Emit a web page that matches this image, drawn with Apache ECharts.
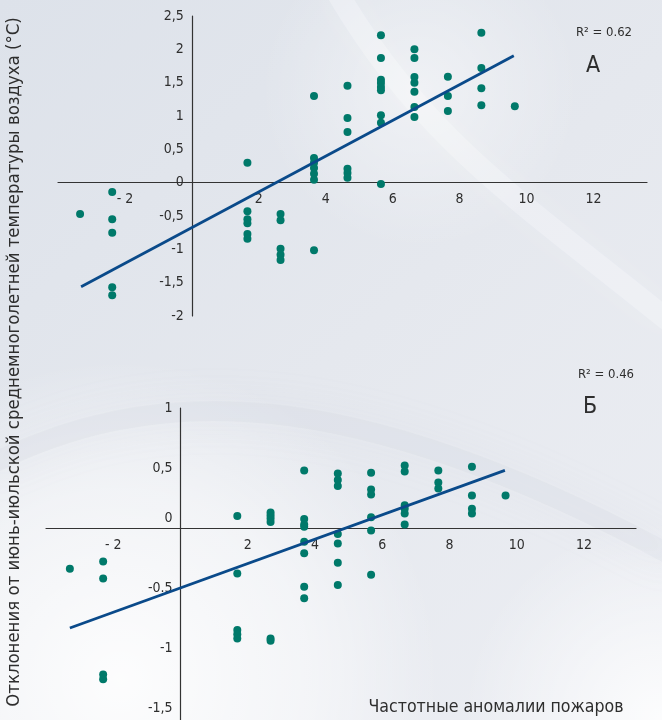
<!DOCTYPE html>
<html>
<head>
<meta charset="utf-8">
<script src="https://cdn.jsdelivr.net/npm/echarts@6.0.0/dist/echarts.min.js"></script>
<style>html,body{margin:0;padding:0;background:#e3e7ee}#c{width:662px;height:720px}</style>
</head>
<body>
<div id="c"></div>
<script>
// ---- Data ----
// Panel А
const topColumnsX = [-3.34, -2.38, 1.66, 2.65, 3.65, 4.65, 5.65, 6.65, 7.65, 8.65, 9.65];
const topColumnsY = [
  [-0.47],
  [-0.14, -0.55, -0.75, -1.57, -1.69],
  [0.30, -0.43, -0.55, -0.61, -0.77, -0.84],
  [-0.47, -0.565, -0.99, -1.08, -1.16],
  [1.30, 0.37, 0.30, 0.22, 0.135, 0.045, -1.015],
  [1.455, 0.97, 0.76, 0.21, 0.145, 0.075],
  [2.21, 1.87, 1.545, 1.495, 1.435, 1.385, 1.01, 0.90, -0.02],
  [2.0, 1.87, 1.585, 1.50, 1.365, 1.135, 0.985],
  [1.59, 1.30, 1.075],
  [2.25, 1.72, 1.415, 1.16],
  [1.145]
];
const topTrend = [[-3.31, -1.56], [9.62, 1.905]];
const topR2 = 'R² = 0.62';
const topPanel = 'А';

// Panel Б
const botColumnsX = [-3.29, -2.30, 1.69, 2.68, 3.68, 4.68, 5.67, 6.67, 7.67, 8.67, 9.67];
const botColumnsY = [
  [-0.34],
  [-0.28, -0.42, -1.22, -1.26],
  [0.10, -0.38, -0.85, -0.885, -0.92],
  [0.13, 0.105, 0.08, 0.05, -0.92, -0.94],
  [0.48, 0.075, 0.03, 0.01, -0.115, -0.21, -0.49, -0.585],
  [0.455, 0.40, 0.35, -0.05, -0.13, -0.29, -0.475],
  [0.46, 0.32, 0.28, 0.09, -0.02, -0.39],
  [0.52, 0.47, 0.19, 0.16, 0.12, 0.03],
  [0.48, 0.38, 0.33],
  [0.51, 0.27, 0.16, 0.12],
  [0.27]
];
const botTrend = [[-3.29, -0.833], [9.65, 0.48]];
const botR2 = 'R² = 0.46';
const botPanel = 'Б';

// Tick labels
const xTickValues = [-2, 2, 4, 6, 8, 10, 12];
const xTickLabels = ['- 2', '2', '4', '6', '8', '10', '12'];
const topYTickValues = [-2, -1.5, -1, -0.5, 0, 0.5, 1, 1.5, 2, 2.5];
const topYTickLabels = ['-2', '-1,5', '-1', '-0,5', '0', '0,5', '1', '1,5', '2', '2,5'];
const botYTickValues = [-1.5, -1, -0.5, 0, 0.5, 1];
const botYTickLabels = ['-1,5', '-1', '-0.5', '{up|0}', '0,5', '1'];

const yTitle = 'Отклонения от июнь-июльской среднемноголетней температуры воздуха (°С)';
const xTitle = 'Частотные аномалии пожаров';

// ---- Build ----
function toPoints(xs, ys) {
  const out = [];
  xs.forEach((x, i) => ys[i].forEach(y => out.push([x, y])));
  return out;
}
function lookup(vals, labels) {
  return function (v) {
    const i = vals.findIndex(t => Math.abs(t - v) < 1e-6);
    return i < 0 ? '' : labels[i];
  };
}
const FONT = "'Liberation Sans Narrow','DejaVu Sans Condensed','Roboto Condensed','Liberation Sans',sans-serif";
const TXT = '#2e2e2e';
const DOT = '#00796a';
const LINE = '#0a4a8a';
const AXIS = '#333';

const grids = [
  { left: 58, top: 16, width: 589, height: 300, xMin: -4, xMax: 13.6, yMin: -2, yMax: 2.5 },
  { left: 46, top: 408, width: 590, height: 360, xMin: -4, xMax: 13.55, yMin: -2, yMax: 1 }
];
// place axes through the zero of the other axis (offset inward from grid edge)
function xOffset(g) { return -(0 - g.yMin) / (g.yMax - g.yMin) * g.height; }
function yOffset(g) { return -(0 - g.xMin) / (g.xMax - g.xMin) * g.width; }

function xAxisCfg(gi) {
  const g = grids[gi];
  return {
    type: 'value', gridIndex: gi, min: g.xMin, max: g.xMax, interval: 2, position: 'bottom', offset: xOffset(g),
    axisLine: { onZero: false, lineStyle: { color: AXIS, width: 1.2 } },
    axisTick: { show: false }, splitLine: { show: false },
    axisLabel: { margin: 10, color: TXT, fontFamily: FONT, fontSize: 14, formatter: lookup(xTickValues, xTickLabels), showMinLabel: true, showMaxLabel: true }
  };
}
function yAxisCfg(gi, vals, labels) {
  const g = grids[gi];
  return {
    type: 'value', gridIndex: gi, min: g.yMin, max: g.yMax, interval: 0.5, position: 'left', offset: yOffset(g),
    axisLine: { onZero: false, lineStyle: { color: AXIS, width: 1.2 } },
    axisTick: { show: false }, splitLine: { show: false },
    axisLabel: { margin: 8, color: TXT, fontFamily: FONT, fontSize: 14, formatter: lookup(vals, labels), showMinLabel: true, showMaxLabel: true,
      rich: { up: { fontFamily: FONT, fontSize: 14, color: TXT, padding: [0, 0, 20, 0] } } }
  };
}

const option = {
  backgroundColor: '#e3e7ee',
  animation: false,
  graphic: [
    { type: 'rect', z: -10, shape: { x: 0, y: 0, width: 662, height: 720 },
      style: { fill: { type: 'linear', x: 0, y: 0, x2: 1, y2: 1, colorStops: [
        { offset: 0, color: '#dde2ea' }, { offset: 0.5, color: '#e5e8ee' }, { offset: 1, color: '#eceef3' }] } } },
    { type: 'circle', z: -9, shape: { cx: 120, cy: 680, r: 320 },
      style: { fill: { type: 'radial', x: 0.5, y: 0.5, r: 0.5, colorStops: [
        { offset: 0, color: 'rgba(255,255,255,0.9)' }, { offset: 0.6, color: 'rgba(255,255,255,0.5)' }, { offset: 1, color: 'rgba(255,255,255,0)' }] } } },
    { type: 'circle', z: -9, shape: { cx: 662, cy: 720, r: 200 },
      style: { fill: { type: 'radial', x: 0.5, y: 0.5, r: 0.5, colorStops: [
        { offset: 0, color: 'rgba(255,255,255,0.85)' }, { offset: 1, color: 'rgba(255,255,255,0)' }] } } },
    { type: 'circle', z: -9, shape: { cx: 420, cy: 90, r: 160 },
      style: { fill: { type: 'radial', x: 0.5, y: 0.5, r: 0.5, colorStops: [
        { offset: 0, color: 'rgba(255,255,255,0.45)' }, { offset: 1, color: 'rgba(255,255,255,0)' }] } } },
    { type: 'bezierCurve', z: -8, shape: { x1: 330, y1: -20, cpx1: 420, cpy1: 140, cpx2: 520, cpy2: 200, x2: 680, y2: 330 },
      style: { stroke: 'rgba(255,255,255,0.25)', lineWidth: 22, fill: null, shadowBlur: 40, shadowColor: 'rgba(255,255,255,0.7)' } },
    { type: 'bezierCurve', z: -8, shape: { x1: -20, y1: 470, cpx1: 150, cpy1: 380, cpx2: 350, cpy2: 380, x2: 680, y2: 560 },
      style: { stroke: 'rgba(205,210,220,0.18)', lineWidth: 20, fill: null, shadowBlur: 40, shadowColor: 'rgba(200,205,215,0.5)' } },
    { type: 'text', x: 14, y: 362, rotation: Math.PI / 2,
      style: { text: yTitle, fontFamily: FONT, fontSize: 18.4, fill: TXT, align: 'center', verticalAlign: 'middle' } },
    { type: 'text', x: 496, y: 707,
      style: { text: xTitle, fontFamily: FONT, fontSize: 17.6, fill: TXT, align: 'center', verticalAlign: 'middle' } },
    { type: 'text', x: 604, y: 33,
      style: { text: topR2, fontFamily: FONT, fontSize: 13, fill: TXT, align: 'center', verticalAlign: 'middle' } },
    { type: 'text', x: 593, y: 66,
      style: { text: topPanel, fontFamily: FONT, fontSize: 23, fill: TXT, align: 'center', verticalAlign: 'middle' } },
    { type: 'text', x: 606, y: 375,
      style: { text: botR2, fontFamily: FONT, fontSize: 13, fill: TXT, align: 'center', verticalAlign: 'middle' } },
    { type: 'text', x: 590, y: 407,
      style: { text: botPanel, fontFamily: FONT, fontSize: 23, fill: TXT, align: 'center', verticalAlign: 'middle' } }
  ],
  grid: grids.map(g => ({ left: g.left, top: g.top, width: g.width, height: g.height, outerBoundsMode: 'none', containLabel: false })),
  xAxis: [xAxisCfg(0), xAxisCfg(1)],
  yAxis: [yAxisCfg(0, topYTickValues, topYTickLabels), yAxisCfg(1, botYTickValues, botYTickLabels)],
  series: [
    { type: 'scatter', xAxisIndex: 0, yAxisIndex: 0, symbol: 'circle', symbolSize: 8, itemStyle: { color: DOT, opacity: 1 }, data: toPoints(topColumnsX, topColumnsY), silent: true },
    { type: 'line', xAxisIndex: 0, yAxisIndex: 0, showSymbol: false, symbol: 'none', lineStyle: { color: LINE, width: 2.8 }, data: topTrend, silent: true, z: 3 },
    { type: 'scatter', xAxisIndex: 1, yAxisIndex: 1, symbol: 'circle', symbolSize: 8, itemStyle: { color: DOT, opacity: 1 }, data: toPoints(botColumnsX, botColumnsY), silent: true },
    { type: 'line', xAxisIndex: 1, yAxisIndex: 1, showSymbol: false, symbol: 'none', lineStyle: { color: LINE, width: 2.8 }, data: botTrend, silent: true, z: 3 }
  ]
};
const chart = echarts.init(document.getElementById('c'), null, { renderer: 'canvas' });
chart.setOption(option);
</script>
</body>
</html>
